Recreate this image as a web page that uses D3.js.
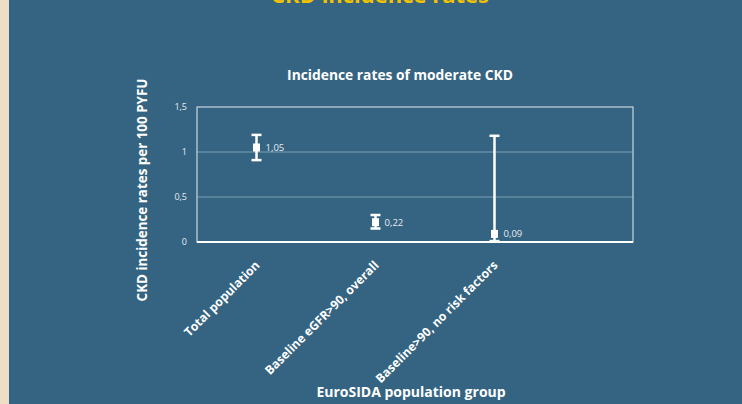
<!DOCTYPE html>
<html>
<head>
<meta charset="utf-8">
<script src="https://cdn.jsdelivr.net/npm/d3@7"></script>
<style>
  body { margin: 0; background: #356482; }
  svg { display: block; }
</style>
</head>
<body>
<div id="chart"></div>
<script>
// data
var categories = ["Total population", "Baseline eGFR>90, overall", "Baseline>90, no risk factors"];
var rates = [1.05, 0.22, 0.09];
var lowerCI = [0.91, 0.15, 0.01];
var upperCI = [1.19, 0.30, 1.18];
var yTicks = [0, 0.5, 1, 1.5];

var W = 742, H = 404;
var plot = { left: 197, top: 107, width: 436, height: 135 };

var svg = d3.select("#chart").append("svg").attr("width", W).attr("height", H);

svg.append("rect").attr("width", W).attr("height", H).attr("fill", "#356482");
// beige strip on the left edge
svg.append("rect").attr("x", 0).attr("y", 0).attr("width", 9).attr("height", H).attr("fill", "#efdec6");

// slide heading, mostly cut off at the top (as in the source)
svg.append("text")
  .attr("x", 380).attr("y", 3)
  .attr("text-anchor", "middle")
  .attr("font-family", "Open Sans").attr("font-weight", "bold").attr("font-size", 22)
  .attr("fill", "#f2c200")
  .text("CKD incidence rates");

svg.append("text")
  .attr("x", 400).attr("y", 80)
  .attr("text-anchor", "middle")
  .attr("font-family", "Open Sans").attr("font-weight", "bold").attr("font-size", 13.8)
  .attr("fill", "#ffffff")
  .text("Incidence rates of moderate CKD");

var x = d3.scaleBand().domain(categories).range([0, 357]);
var y = d3.scaleLinear().domain([0, 1.5]).range([plot.height, 0]);

var g = svg.append("g").attr("transform", "translate(" + plot.left + "," + plot.top + ")");

// gridlines
g.selectAll(".grid")
  .data(yTicks.filter(function(d) { return d > 0 && d < 1.5; }))
  .enter().append("line")
  .attr("x1", 0).attr("x2", plot.width)
  .attr("y1", function(d) { return y(d); })
  .attr("y2", function(d) { return y(d); })
  .attr("stroke", "#7d9db2").attr("stroke-width", 1);

// plot frame
g.append("rect")
  .attr("width", plot.width).attr("height", plot.height)
  .attr("fill", "none").attr("stroke", "#c9d6df").attr("stroke-width", 1.2);
g.append("line")
  .attr("x1", 0).attr("x2", plot.width)
  .attr("y1", plot.height).attr("y2", plot.height)
  .attr("stroke", "#ffffff").attr("stroke-width", 2);

// y axis labels
var yAxis = d3.axisLeft(y).tickValues(yTicks).tickSize(0).tickPadding(10)
  .tickFormat(function(d) { return String(d).replace(".", ","); });
var ya = g.append("g").call(yAxis);
ya.select(".domain").remove();
ya.selectAll("text")
  .attr("font-family", "Open Sans").attr("font-size", 9).attr("fill", "#e4ebf0");

// x axis labels, rotated
var xAxis = d3.axisBottom(x).tickSize(0).tickPadding(0);
var xa = g.append("g").attr("transform", "translate(0," + plot.height + ")").call(xAxis);
xa.select(".domain").remove();
xa.selectAll("text")
  .attr("font-family", "Open Sans").attr("font-weight", "bold").attr("font-size", 12.2)
  .attr("fill", "#ffffff")
  .attr("text-anchor", "end")
  .attr("dy", "0.35em")
  .attr("transform", "translate(1,21) rotate(-45)");

// error bars
var idx = d3.range(categories.length);
var cx = function(i) { return x(categories[i]) + x.bandwidth() / 2; };

var bars = g.selectAll(".err").data(idx).enter().append("g").attr("class", "err");
bars.append("line")
  .attr("x1", cx).attr("x2", cx)
  .attr("y1", function(i) { return y(upperCI[i]); })
  .attr("y2", function(i) { return y(lowerCI[i]); })
  .attr("stroke", "#ffffff").attr("stroke-width", 2.5);
[upperCI, lowerCI].forEach(function(arr) {
  bars.append("line")
    .attr("x1", function(i) { return cx(i) - 5; })
    .attr("x2", function(i) { return cx(i) + 5; })
    .attr("y1", function(i) { return y(arr[i]); })
    .attr("y2", function(i) { return y(arr[i]); })
    .attr("stroke", "#ffffff").attr("stroke-width", 2.5);
});
bars.append("rect")
  .attr("x", function(i) { return cx(i) - 3.5; })
  .attr("y", function(i) { return y(rates[i]) - 4; })
  .attr("width", 7).attr("height", 8)
  .attr("fill", "#ffffff");
bars.append("text")
  .attr("x", function(i) { return cx(i) + 9; })
  .attr("y", function(i) { return y(rates[i]); })
  .attr("dy", "0.35em")
  .attr("font-family", "Open Sans").attr("font-size", 9.5).attr("fill", "#e4ebf0")
  .text(function(i) { return rates[i].toFixed(2).replace(".", ","); });

// axis titles
svg.append("text")
  .attr("transform", "translate(147,190) rotate(-90)")
  .attr("text-anchor", "middle")
  .attr("font-family", "Open Sans").attr("font-weight", "bold").attr("font-size", 13.4)
  .attr("fill", "#ffffff")
  .text("CKD incidence rates per 100 PYFU");

svg.append("text")
  .attr("x", 411).attr("y", 397)
  .attr("text-anchor", "middle")
  .attr("font-family", "Open Sans").attr("font-weight", "bold").attr("font-size", 14)
  .attr("fill", "#ffffff")
  .text("EuroSIDA population group");
</script>
</body>
</html>
